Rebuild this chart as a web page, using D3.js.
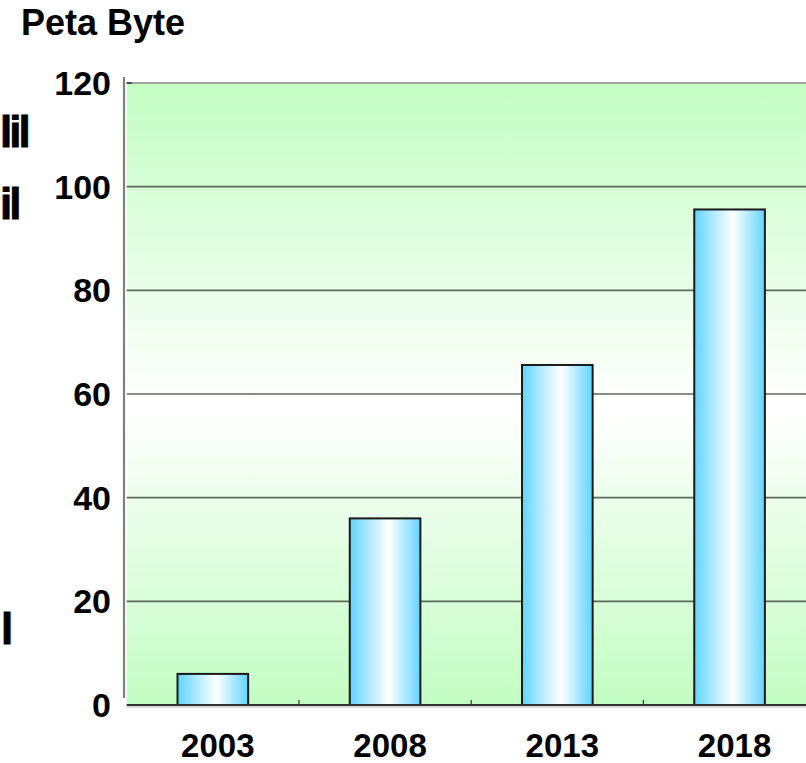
<!DOCTYPE html>
<html>
<head>
<meta charset="utf-8">
<script src="https://cdn.jsdelivr.net/npm/d3@7/dist/d3.min.js"></script>
<style>
  html, body { margin: 0; padding: 0; background: #fff; overflow: hidden; }
  svg { display: block; font-family: "Liberation Sans", Arial, sans-serif; }
</style>
</head>
<body>
<svg id="chart" width="806" height="763"></svg>
<script>
// Storage volume by year (Peta Byte)
const years = ["2003", "2008", "2013", "2018"];
const volumes = [6, 36, 65.6, 95.6];
const yTicks = [0, 20, 40, 60, 80, 100, 120];
const unitLabel = "Peta Byte";
const sideLabels = [
  { text: "lil", y: 147, x: 0 },
  { text: "il", y: 219, x: 0 },
  { text: "l", y: 644, x: 1 }
];

const svg = d3.select("#chart");
const W = 806, H = 763;
const plot = { left: 126.7, right: 815.7, top: 83, bottom: 705 };

const x = d3.scaleBand()
  .domain(years)
  .range([plot.left, plot.right])
  .paddingInner(0.59)
  .paddingOuter(0.295);

const y = d3.scaleLinear()
  .domain([0, 120])
  .range([plot.bottom, plot.top]);

const defs = svg.append("defs");

// plot background: green at top and bottom, near white in the middle
const bg = defs.append("linearGradient")
  .attr("id", "bgGrad").attr("x1", 0).attr("y1", 0).attr("x2", 0).attr("y2", 1);
bg.append("stop").attr("offset", "0%").attr("stop-color", "#c3fdc3");
bg.append("stop").attr("offset", "52%").attr("stop-color", "#ffffff");
bg.append("stop").attr("offset", "100%").attr("stop-color", "#c3fdc3");

// bar fill: cyan edges with a white highlight
const bar = defs.append("linearGradient")
  .attr("id", "barGrad").attr("x1", 0).attr("y1", 0).attr("x2", 1).attr("y2", 0);
bar.append("stop").attr("offset", "0%").attr("stop-color", "#62d4ff");
bar.append("stop").attr("offset", "55%").attr("stop-color", "#ffffff");
bar.append("stop").attr("offset", "100%").attr("stop-color", "#62d4ff");

svg.append("rect")
  .attr("x", plot.left).attr("y", plot.top)
  .attr("width", W - plot.left + 20).attr("height", plot.bottom - plot.top)
  .attr("fill", "url(#bgGrad)");

// gridlines
svg.append("g")
  .selectAll("line")
  .data(yTicks.filter(d => d > 0 && d < 120))
  .join("line")
  .attr("x1", plot.left).attr("x2", W + 10)
  .attr("y1", d => y(d)).attr("y2", d => y(d))
  .attr("stroke", "#5b6a5b").attr("stroke-width", 1.6);

// top border of plot area
svg.append("line")
  .attr("x1", plot.left).attr("x2", W + 10)
  .attr("y1", y(120)).attr("y2", y(120))
  .attr("stroke", "#8a8a8a").attr("stroke-width", 1.6);
svg.append("line")
  .attr("x1", plot.left).attr("x2", plot.left + 5)
  .attr("y1", y(120)).attr("y2", y(120))
  .attr("stroke", "#333").attr("stroke-width", 1.6);

// bars
svg.append("g")
  .selectAll("rect")
  .data(years.map((yr, i) => ({ yr, v: volumes[i] })))
  .join("rect")
  .attr("x", d => x(d.yr))
  .attr("y", d => y(d.v))
  .attr("width", x.bandwidth())
  .attr("height", d => y(0) - y(d.v))
  .attr("fill", "url(#barGrad)")
  .attr("stroke", "#1a1a1a")
  .attr("stroke-width", 2);

// category axis along the baseline
const xAxis = svg.append("g")
  .attr("transform", `translate(0,${plot.bottom})`);
xAxis.append("line")
  .attr("x1", plot.left).attr("x2", W + 10)
  .attr("y1", 0).attr("y2", 0)
  .attr("stroke", "#333").attr("stroke-width", 1.8);
xAxis.append("line")
  .attr("x1", plot.left).attr("x2", W + 10)
  .attr("y1", 2).attr("y2", 2)
  .attr("stroke", "#b5b5b5").attr("stroke-width", 1);
xAxis.selectAll(".sep")
  .data(years.slice(1))
  .join("line")
  .attr("class", "sep")
  .attr("x1", d => x(d) - x.step() * x.paddingInner() / 2)
  .attr("x2", d => x(d) - x.step() * x.paddingInner() / 2)
  .attr("y1", 0).attr("y2", -5)
  .attr("stroke", "#333").attr("stroke-width", 1.2);
xAxis.selectAll(".xl")
  .data(years)
  .join("text")
  .attr("class", "xl")
  .attr("x", d => x(d) + x.bandwidth() / 2 + 5)
  .attr("y", 52)
  .attr("text-anchor", "middle")
  .attr("font-size", 33)
  .attr("font-weight", "bold")
  .attr("fill", "#000")
  .text(d => d);

// value axis
svg.append("line")
  .attr("x1", 124).attr("x2", 124)
  .attr("y1", 77).attr("y2", 698)
  .attr("stroke", "#808080").attr("stroke-width", 2.2);
svg.append("g")
  .selectAll("text")
  .data(yTicks)
  .join("text")
  .attr("x", 111)
  .attr("y", d => y(d) + 12)
  .attr("text-anchor", "end")
  .attr("font-size", 34)
  .attr("font-weight", "bold")
  .attr("fill", "#000")
  .text(d => d);

// unit label
svg.append("text")
  .attr("x", 21).attr("y", 35)
  .attr("font-size", 36)
  .attr("font-weight", "bold")
  .attr("fill", "#000")
  .text(unitLabel);

// side labels at the left edge (heavy strokes, tight spacing)
svg.append("g")
  .selectAll("text")
  .data(sideLabels)
  .join("text")
  .attr("x", d => d.x)
  .attr("y", d => d.y)
  .attr("font-size", 44)
  .attr("font-weight", "bold")
  .attr("letter-spacing", -3)
  .attr("fill", "#000")
  .attr("stroke", "#000")
  .attr("stroke-width", 0.8)
  .text(d => d.text);
</script>
</body>
</html>
